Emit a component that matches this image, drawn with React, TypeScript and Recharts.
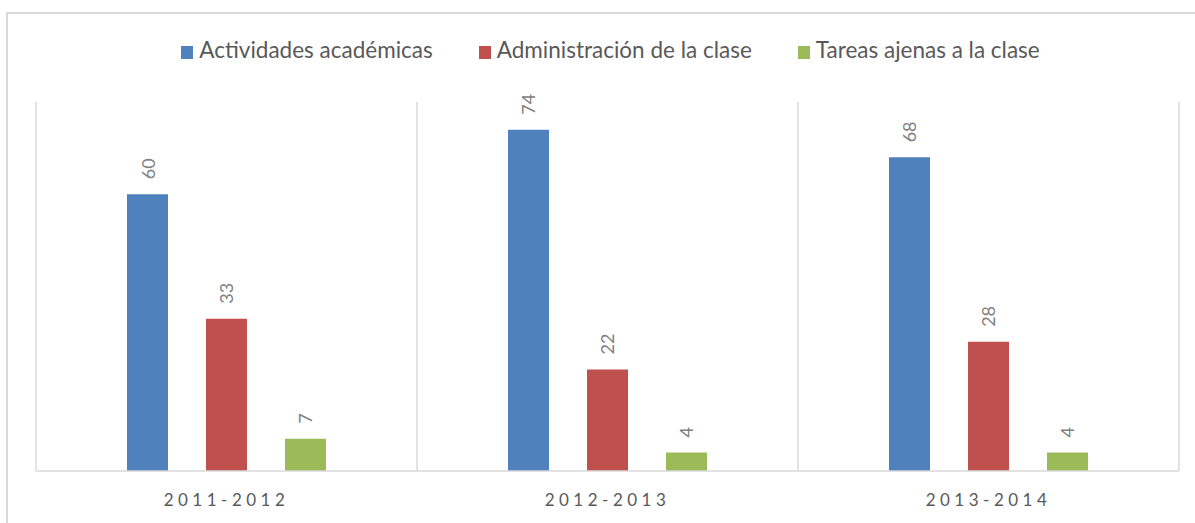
import { BarChart, Bar, XAxis, YAxis, CartesianGrid, LabelList } from "recharts";

const periods = ["2011-2012", "2012-2013", "2013-2014"];
const academicas = [60, 74, 68];
const administracion = [33, 22, 28];
const ajenas = [7, 4, 4];

const seriesNames = [
  "Actividades académicas",
  "Administración de la clase",
  "Tareas ajenas a la clase",
];
const seriesColors = ["#4F81BD", "#C0504D", "#9BBB59"];
const seriesKeys = ["academicas", "administracion", "ajenas"];

const data = periods.map((period, i) => ({
  period,
  academicas: academicas[i],
  administracion: administracion[i],
  ajenas: ajenas[i],
}));

const FONT = "Lato, 'Open Sans', sans-serif";

// separators at the edges of each year group, taken from the plot area
const groupEdges = ({ offset }: any) =>
  Array.from(
    { length: periods.length + 1 },
    (_, i) => offset.left + (i * offset.width) / periods.length
  );

function RotatedLabel(props: any) {
  const { x, y, width, value } = props;
  const cx = Number(x) + Number(width) / 2;
  const ty = Number(y) - 15;
  return (
    <text
      x={cx}
      y={ty}
      transform={`rotate(-90 ${cx} ${ty})`}
      textAnchor="start"
      dominantBaseline="central"
      fill="#808080"
      fontSize={18}
      fontFamily={FONT}
    >
      {value}
    </text>
  );
}

export default function App() {
  return (
    <div
      style={{
        position: "absolute",
        left: 0,
        top: 0,
        width: 1195,
        height: 523,
        background: "#fff",
        overflow: "hidden",
        fontFamily: FONT,
      }}
    >
      {/* Frame */}
      <div
        style={{
          position: "absolute",
          left: 6,
          top: 12,
          width: 1300,
          height: 600,
          borderTop: "2px solid #D9D9D9",
          borderLeft: "2px solid #D9D9D9",
        }}
      />

      {/* Legend */}
      <div
        style={{
          position: "absolute",
          top: 36,
          left: 0,
          width: 1221,
          display: "flex",
          justifyContent: "center",
          alignItems: "center",
          gap: 46,
          fontSize: 22.5,
          color: "#595959",
        }}
      >
        {seriesNames.map((name, i) => (
          <div key={name} style={{ display: "flex", alignItems: "center" }}>
            <span
              style={{
                width: 12,
                height: 13,
                background: seriesColors[i],
                marginRight: 6,
                display: "inline-block",
                position: "relative",
                top: 2,
              }}
            />
            <span style={{ lineHeight: "28px", whiteSpace: "nowrap" }}>{name}</span>
          </div>
        ))}
      </div>

      <div style={{ position: "absolute", left: 0, top: 0 }}>
        <BarChart
          width={1195}
          height={523}
          data={data}
          margin={{ top: 102, right: 16, bottom: 0, left: 36 }}
          barSize={41}
          barGap={38}
        >
          <CartesianGrid
            horizontal={false}
            verticalCoordinatesGenerator={groupEdges}
            stroke="#D9D9D9"
            strokeWidth={1.5}
          />
          <XAxis
            dataKey="period"
            height={52}
            axisLine={{ stroke: "#D9D9D9", strokeWidth: 1.5 }}
            tickLine={false}
            tickMargin={17}
            tick={{
              fontSize: 17,
              fill: "#595959",
              letterSpacing: 4.5,
              fontFamily: FONT,
            }}
          />
          <YAxis domain={[0, 80]} hide width={0} />
          {seriesKeys.map((key, i) => (
            <Bar
              key={key}
              dataKey={key}
              name={seriesNames[i]}
              fill={seriesColors[i]}
              isAnimationActive={false}
            >
              <LabelList dataKey={key} content={RotatedLabel} />
            </Bar>
          ))}
        </BarChart>
      </div>
    </div>
  );
}
